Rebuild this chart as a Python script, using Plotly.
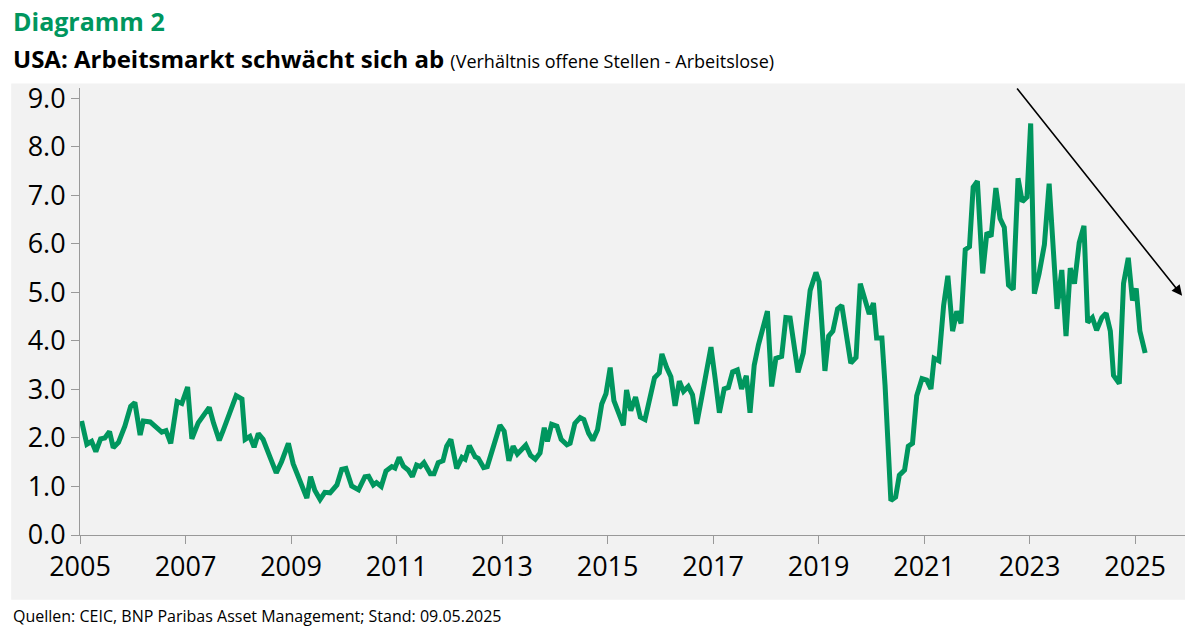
import plotly.graph_objects as go

# ---------------------------------------------------------------------------
# Data: ratio job openings / unemployed, x in decimal years
# ---------------------------------------------------------------------------
YEARS = [
    2005.03, 2005.13, 2005.22, 2005.30, 2005.39, 2005.47, 2005.56, 2005.63, 2005.73, 2005.85,
    2005.96, 2006.04, 2006.14, 2006.20, 2006.33, 2006.45, 2006.55, 2006.63, 2006.72, 2006.84,
    2006.93, 2007.04, 2007.12, 2007.24, 2007.34, 2007.45, 2007.53, 2007.64, 2007.72, 2007.81,
    2007.96, 2008.07, 2008.13, 2008.22, 2008.30, 2008.38, 2008.47, 2008.60, 2008.72, 2008.82,
    2008.95, 2009.04, 2009.17, 2009.30, 2009.37, 2009.45, 2009.55, 2009.64, 2009.74, 2009.87,
    2009.96, 2010.04, 2010.15, 2010.28, 2010.40, 2010.47, 2010.56, 2010.62, 2010.71, 2010.80,
    2010.91, 2010.97, 2011.05, 2011.13, 2011.22, 2011.30, 2011.38, 2011.45, 2011.52, 2011.64,
    2011.71, 2011.79, 2011.88, 2011.95, 2012.03, 2012.14, 2012.24, 2012.30, 2012.38, 2012.49,
    2012.55, 2012.65, 2012.72, 2012.84, 2012.96, 2013.04, 2013.13, 2013.21, 2013.29, 2013.45,
    2013.54, 2013.63, 2013.72, 2013.80, 2013.86, 2013.94, 2014.04, 2014.12, 2014.23, 2014.29,
    2014.38, 2014.48, 2014.55, 2014.64, 2014.72, 2014.81, 2014.89, 2014.97, 2015.05, 2015.12,
    2015.20, 2015.30, 2015.36, 2015.44, 2015.53, 2015.62, 2015.71, 2015.81, 2015.89, 2015.98,
    2016.03, 2016.12, 2016.20, 2016.28, 2016.36, 2016.44, 2016.53, 2016.61, 2016.69, 2016.79,
    2016.88, 2016.96, 2017.04, 2017.12, 2017.21, 2017.29, 2017.37, 2017.46, 2017.54, 2017.63,
    2017.70, 2017.78, 2017.86, 2017.95, 2018.03, 2018.11, 2018.19, 2018.30, 2018.38, 2018.46,
    2018.61, 2018.71, 2018.84, 2018.95, 2019.01, 2019.12, 2019.19, 2019.27, 2019.36, 2019.44,
    2019.61, 2019.71, 2019.79, 2019.96, 2020.04, 2020.10, 2020.20, 2020.26, 2020.37, 2020.46,
    2020.53, 2020.63, 2020.70, 2020.78, 2020.86, 2020.96, 2021.05, 2021.13, 2021.19, 2021.28,
    2021.37, 2021.45, 2021.54, 2021.62, 2021.70, 2021.78, 2021.86, 2021.93, 2022.01, 2022.11,
    2022.19, 2022.27, 2022.36, 2022.44, 2022.52, 2022.60, 2022.69, 2022.78, 2022.86, 2022.95,
    2023.02, 2023.09, 2023.18, 2023.28, 2023.37, 2023.52, 2023.61, 2023.69, 2023.77, 2023.85,
    2023.94, 2024.03, 2024.10, 2024.19, 2024.27, 2024.37, 2024.45, 2024.53, 2024.59, 2024.70,
    2024.78, 2024.87, 2024.95, 2025.02, 2025.09, 2025.19,
]
RATIO = [
    2.35, 1.87, 1.93, 1.72, 1.98, 2.00, 2.13, 1.80, 1.91, 2.24,
    2.65, 2.73, 2.06, 2.35, 2.33, 2.21, 2.12, 2.15, 1.89, 2.75,
    2.71, 3.05, 1.98, 2.31, 2.45, 2.63, 2.31, 1.95, 2.17, 2.42,
    2.87, 2.80, 1.97, 2.03, 1.81, 2.09, 1.97, 1.61, 1.28, 1.51,
    1.89, 1.47, 1.13, 0.76, 1.20, 0.92, 0.73, 0.88, 0.87, 1.03,
    1.35, 1.37, 1.01, 0.93, 1.20, 1.21, 1.03, 1.08, 1.00, 1.32,
    1.41, 1.38, 1.60, 1.42, 1.34, 1.20, 1.44, 1.41, 1.49, 1.26,
    1.26, 1.49, 1.53, 1.83, 1.97, 1.37, 1.60, 1.56, 1.84, 1.61,
    1.58, 1.39, 1.41, 1.86, 2.26, 2.14, 1.53, 1.83, 1.67, 1.85,
    1.64, 1.56, 1.69, 2.21, 1.93, 2.28, 2.24, 1.97, 1.86, 1.89,
    2.30, 2.42, 2.38, 2.10, 1.95, 2.17, 2.70, 2.91, 3.45, 2.77,
    2.52, 2.26, 2.99, 2.56, 2.84, 2.43, 2.38, 2.87, 3.24, 3.34,
    3.73, 3.45, 3.26, 2.66, 3.17, 2.96, 3.06, 2.89, 2.29, 2.87,
    3.40, 3.87, 3.22, 2.52, 3.01, 3.04, 3.36, 3.40, 3.01, 3.28,
    2.52, 3.50, 3.92, 4.24, 4.61, 3.06, 3.64, 3.68, 4.48, 4.47,
    3.35, 3.75, 5.04, 5.41, 5.22, 3.38, 4.10, 4.20, 4.66, 4.73,
    3.54, 3.66, 5.18, 4.55, 4.78, 4.06, 4.06, 3.08, 0.71, 0.78,
    1.23, 1.34, 1.83, 1.89, 2.87, 3.22, 3.19, 3.01, 3.64, 3.59,
    4.73, 5.34, 4.20, 4.61, 4.36, 5.88, 5.94, 7.17, 7.29, 5.39,
    6.23, 6.15, 7.15, 6.52, 6.34, 5.15, 5.06, 7.35, 6.87, 6.96,
    8.48, 4.97, 5.39, 5.98, 7.24, 4.66, 5.46, 4.10, 5.50, 5.18,
    6.02, 6.37, 4.38, 4.48, 4.22, 4.48, 4.57, 4.20, 3.29, 3.12,
    5.18, 5.71, 4.83, 5.08, 4.20, 3.75,
]

X_TICKS = list(range(2005, 2026, 2))
Y_TICKS = [0, 1, 2, 3, 4, 5, 6, 7, 8, 9]

# trend arrow (start, end)
ARROW_START = (2022.74, 9.23)
ARROW_END = (2025.89, 4.93)

GREEN = "#00965e"
BG = "#f2f2f2"
FONT = "Open Sans"
LEFT = -0.062  # left edge for titles / grey panel, in paper coords

fig = go.Figure()

fig.add_trace(go.Scatter(
    x=YEARS, y=RATIO, mode="lines",
    line=dict(color=GREEN, width=5),
    showlegend=False,
))

# grey panel behind plot and tick labels
fig.add_shape(type="rect", xref="paper", yref="paper",
              x0=LEFT, x1=1.0, y0=-0.145, y1=1.01,
              fillcolor=BG, line_width=0, layer="below")

fig.add_annotation(
    x=ARROW_END[0], y=ARROW_END[1], ax=ARROW_START[0], ay=ARROW_START[1],
    xref="x", yref="y", axref="x", ayref="y",
    showarrow=True, arrowhead=2, arrowsize=1.3, arrowwidth=1.6, arrowcolor="black",
    text="",
)

fig.add_annotation(
    text="<b>Diagramm 2</b>", xref="paper", yref="paper", x=LEFT, y=1.15,
    xanchor="left", yanchor="middle", showarrow=False,
    font=dict(size=25, color=GREEN, family=FONT),
)
fig.add_annotation(
    text="<b>USA: Arbeitsmarkt schwächt sich ab</b> "
         "<span style='font-size:18px'>(Verhältnis offene Stellen - Arbeitslose)</span>",
    xref="paper", yref="paper", x=LEFT, y=1.065,
    xanchor="left", yanchor="middle", showarrow=False,
    font=dict(size=24, color="black", family=FONT),
)
fig.add_annotation(
    text="Quellen: CEIC, BNP Paribas Asset Management; Stand: 09.05.2025",
    xref="paper", yref="paper", x=LEFT, y=-0.182,
    xanchor="left", yanchor="middle", showarrow=False,
    font=dict(size=16, color="black", family=FONT),
)

# page body adds an 8px offset; sizes/margins compensate for it
fig.update_layout(
    width=1185, height=628,
    margin=dict(l=72, r=3, t=80, b=101, autoexpand=False),
    paper_bgcolor="white",
    plot_bgcolor=BG,
    font=dict(family=FONT, color="black", size=26),
)
fig.update_xaxes(
    range=[2005, 2026.04], tickvals=X_TICKS, ticktext=[str(v) for v in X_TICKS],
    showgrid=False, zeroline=False, showline=True, linecolor="#999999", linewidth=1,
    ticks="outside", tickcolor="#999999", ticklen=8, automargin=False,
    tickfont=dict(size=27),
)
fig.update_yaxes(
    range=[0, 9.21], tickvals=Y_TICKS, ticktext=[f"{v:.1f}" for v in Y_TICKS],
    showgrid=False, zeroline=False, showline=True, linecolor="#999999", linewidth=1,
    ticks="outside", tickcolor="#999999", ticklen=8, automargin=False,
    tickfont=dict(size=27),
)

fig.write_html("out.html")
